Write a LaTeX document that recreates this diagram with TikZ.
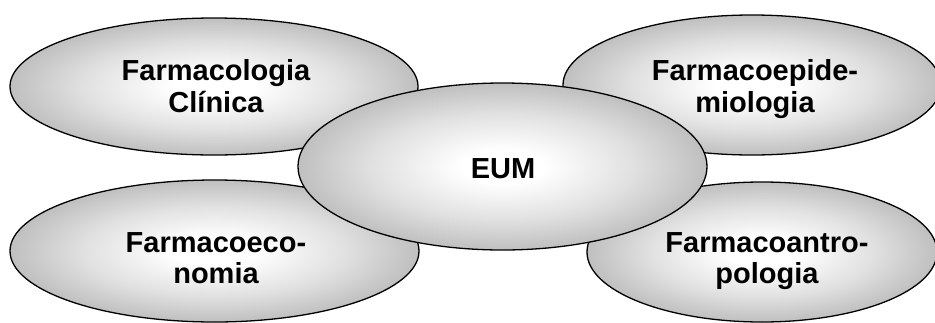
\documentclass[tikz,border=0pt]{standalone}
\usepackage{fontspec}
\setmainfont{Liberation Sans}
\usetikzlibrary{shapes.geometric}

% soft radial fill: white core fading to light grey at the rim
\pgfdeclareradialshading{softglow}{\pgfpoint{0bp}{0bp}}{%
  color(0bp)=(white); color(5bp)=(white); color(16bp)=(black!12);
  color(25bp)=(black!25); color(50bp)=(black!25)}

\tikzset{
  blob/.style={ellipse, draw=black, line width=1.3pt, inner sep=0pt,
    shading=softglow},
  caption/.style={inner sep=0pt, align=center,
    font=\fontsize{29pt}{31.5pt}\selectfont\bfseries}
}

\begin{document}
\begin{tikzpicture}[x=1pt, y=-1pt]
  \useasboundingbox (0,0) rectangle (935,322);

  % outer fields
  \node[blob, minimum width=408pt, minimum height=137pt] (clin) at (214,86.5) {};
  \node[blob, minimum width=378pt, minimum height=140pt] (epid) at (752,85) {};
  \node[blob, minimum width=409pt, minimum height=142pt] (econ) at (214.5,251) {};
  \node[blob, minimum width=350pt, minimum height=140pt] (antr) at (762,252) {};

  % central field on top
  \node[blob, minimum width=409pt, minimum height=167pt] (eum) at (502.5,166.5) {};

  % captions
  \node[caption] (tclin) at (216,86) {Farmacologia\\Clínica};
  \node[caption] (tepid) at (755,89) {Farmacoepide-\\miologia};
  \node[caption] (tecon) at (216,258) {Farmacoeco-\\nomia};
  \node[caption] (tantr) at (767,261) {Farmacoantro-\\pologia};
  \node[caption] (teum) at (503,168.5) {EUM};
\end{tikzpicture}
\end{document}
